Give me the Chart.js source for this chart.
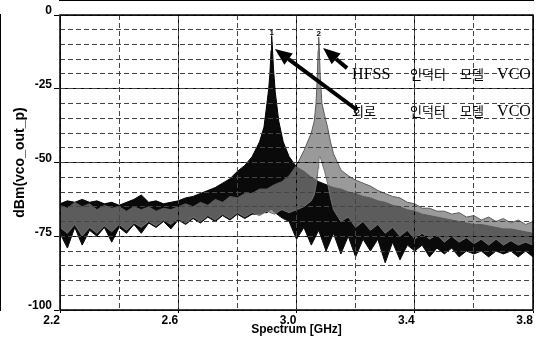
<!DOCTYPE html>
<html lang="ko">
<head>
  <meta charset="UTF-8" />
  <title>VCO Spectrum</title>
  <script src="https://cdn.jsdelivr.net/npm/chart.js"></script>
  <style>
    body { margin: 0; background: #fff; }
    #wrap { width: 540px; height: 340px; }
  </style>
</head>
<body>
  <div id="wrap"><canvas id="spec" width="540" height="340"></canvas></div>

  <script>
    // 회로 인덕터 모델 VCO (black trace), GHz / dBm
    const freqCircuit = [
      2.200, 2.225, 2.250, 2.275, 2.300, 2.325, 2.350, 2.375, 2.400, 2.425,
      2.450, 2.475, 2.500, 2.525, 2.550, 2.575, 2.600, 2.625, 2.650, 2.675,
      2.700, 2.725, 2.750, 2.775, 2.800, 2.825, 2.850,
      2.875, 2.890, 2.900, 2.906, 2.910, 2.914, 2.916, 2.918, 2.922, 2.928, 2.940, 2.955, 2.975,
      3.000, 3.025, 3.050, 3.075, 3.100, 3.125, 3.150, 3.175, 3.200, 3.225,
      3.250, 3.275, 3.300, 3.325, 3.350, 3.375, 3.400, 3.425, 3.450, 3.475,
      3.500, 3.525, 3.550, 3.575, 3.600, 3.625, 3.650, 3.675, 3.700, 3.725,
      3.750, 3.775, 3.800
    ];
    const topCircuit = [
      -64, -63, -63.5, -62.5, -63.5, -63, -64, -63.5, -64.5, -63.5,
      -62.5, -61, -63.5, -63, -64, -63.5, -63, -62, -61.5, -60.5,
      -59.5, -58.5, -57, -55.5, -53, -51, -48,
      -43, -38, -30, -25, -20, -12, -7, -10, -18, -26, -36, -43, -48,
      -51.5, -53, -55, -56.5, -57.5, -58.5, -59, -60, -60.5, -61.5,
      -62, -63, -63.5, -64.5, -65, -66, -66.5, -67.5, -68, -68.5,
      -69, -69.5, -70, -70.5, -71, -71, -71.5, -72, -72.5, -72.5,
      -73, -73.5, -74
    ];
    const botCircuit = [
      -74, -79, -72, -78, -73, -75, -72, -77, -72, -74,
      -71, -74, -70.5, -72, -70, -72.5, -69.5, -71, -69, -70.5,
      -68.5, -70, -68, -69.5, -67.5, -69, -67.5,
      -67.5, -67, -67, -66.5, -66, -66, -66, -66, -66.5, -67, -68, -69, -70,
      -76, -72, -78, -73, -80, -74, -81, -75, -82, -76,
      -80, -76, -84, -77, -83, -78, -80, -78, -82, -79,
      -81, -79, -82, -80, -81, -80, -82, -80, -81, -80,
      -82, -80, -82
    ];

    // HFSS 인덕터 모델 VCO (gray trace)
    const freqHfss = [
      2.200, 2.225, 2.250, 2.275, 2.300, 2.325, 2.350, 2.375, 2.400, 2.425,
      2.450, 2.475, 2.500, 2.525, 2.550, 2.575, 2.600, 2.625, 2.650, 2.675,
      2.700, 2.725, 2.750, 2.775, 2.800, 2.825, 2.850, 2.875, 2.900, 2.925,
      2.950, 2.975, 3.000, 3.025,
      3.050, 3.060, 3.066, 3.070, 3.073, 3.075, 3.077, 3.080, 3.086, 3.095, 3.105, 3.115, 3.125,
      3.150, 3.175, 3.200, 3.225, 3.250, 3.275, 3.300, 3.325, 3.350, 3.375,
      3.400, 3.425, 3.450, 3.475, 3.500, 3.525, 3.550, 3.575, 3.600, 3.625,
      3.650, 3.675, 3.700, 3.725, 3.750, 3.775, 3.800
    ];
    const topHfss = [
      -64.5, -65.5, -63.5, -65, -64, -66, -64.5, -65.5, -65, -66.5,
      -65, -66, -65, -66.5, -65.5, -66, -65, -64, -65, -63.5,
      -64.5, -62.5, -63.5, -61.5, -62, -60.5, -60.5, -59, -59, -57.5,
      -56.5, -54.5, -51, -46,
      -40, -36, -30, -22, -12, -7.5, -11, -20, -30, -34, -38, -43, -47,
      -52.5, -54.5, -56, -57, -58, -59.5, -60.5, -61.5, -62, -63.5,
      -64, -65.5, -65.5, -66.5, -66.5, -67.5, -67, -68.5, -68, -69.5,
      -68.5, -70, -69, -70.5, -69.5, -71, -70
    ];
    const botHfss = [
      -72, -74, -71, -75, -72, -74, -71.5, -73.5, -71, -73,
      -70.5, -72, -70, -71.5, -69.5, -71, -69, -70.5, -68.5, -70,
      -68, -69.5, -67.5, -69, -67, -68.5, -67, -68, -66.5, -67.5,
      -66, -67, -66, -65,
      -63, -61, -58, -55, -52, -50, -48, -48, -50, -53, -57, -62, -66,
      -70, -68.5, -72, -70, -73, -71, -74, -72, -75, -73,
      -76, -74, -76, -74.5, -77, -75, -77, -75.5, -77.5, -76,
      -78, -76, -78, -76.5, -78, -77, -78
    ];

    // marker labels at the two peaks
    const peakFreqs = [2.916, 3.075];
    const peakLevels = [-7, -7.5];
    const peakMarks = ['1', '2'];

    // axis ticks
    const xMajor = [2.2, 2.6, 3.0, 3.4, 3.8];
    const xMinor = [2.2, 2.4, 2.6, 2.8, 3.0, 3.2, 3.4, 3.6, 3.8];
    const yMajor = [0, -25, -50, -75, -100];
    const yMinor = [0, -5, -10, -15, -20, -25, -30, -35, -40, -45, -50,
                    -55, -60, -65, -70, -75, -80, -85, -90, -95, -100];

    const toPts = (fs, vs) => fs.map((f, i) => ({ x: f, y: vs[i] }));
    const tickFont = { family: '"Liberation Sans", Arial, sans-serif', size: 12, weight: 'bold' };

    function drawArrow(ctx, x0, y0, x1, y1) {
      const a = Math.atan2(y1 - y0, x1 - x0);
      const head = 17, half = 7;
      const bx = x1 - head * Math.cos(a), by = y1 - head * Math.sin(a);
      ctx.lineWidth = 4;
      ctx.beginPath();
      ctx.moveTo(x0, y0);
      ctx.lineTo(bx, by);
      ctx.stroke();
      ctx.beginPath();
      ctx.moveTo(x1, y1);
      ctx.lineTo(bx + half * Math.sin(a), by - half * Math.cos(a));
      ctx.lineTo(bx - half * Math.sin(a), by + half * Math.cos(a));
      ctx.closePath();
      ctx.fill();
    }

    // frame, peak markers, arrows and the two captions
    const notes = {
      id: 'notes',
      afterDraw(chart) {
        const { ctx, chartArea: a } = chart;
        const x = chart.scales.x, y = chart.scales.y;
        ctx.save();
        ctx.strokeStyle = '#000';
        ctx.fillStyle = '#000';
        ctx.lineWidth = 1.5;
        ctx.strokeRect(a.left, a.top, a.right - a.left, a.bottom - a.top);

        ctx.font = 'bold 8px "Liberation Sans"';
        ctx.textAlign = 'center';
        ctx.textBaseline = 'bottom';
        peakFreqs.forEach((f, i) => {
          ctx.fillText(peakMarks[i], x.getPixelForValue(f), y.getPixelForValue(peakLevels[i]) + 1);
        });

        drawArrow(ctx, x.getPixelForValue(3.171), y.getPixelForValue(-18),
                       x.getPixelForValue(3.090), y.getPixelForValue(-11.2));
        drawArrow(ctx, x.getPixelForValue(3.205), y.getPixelForValue(-32.2),
                       x.getPixelForValue(2.927), y.getPixelForValue(-11.5));

        const captions = [
          { f: 3.188, db: -20, words: [['HFSS', 0], ['인덕터', 58], ['모델', 108], ['VCO', 145]] },
          { f: 3.188, db: -32.5, words: [['회로', 0], ['인덕터', 58], ['모델', 108], ['VCO', 145]] }
        ];
        ctx.textAlign = 'left';
        ctx.textBaseline = 'middle';
        captions.forEach(c => {
          const px = x.getPixelForValue(c.f), py = y.getPixelForValue(c.db);
          c.words.forEach(([w, dx]) => {
            const latin = /^[A-Z]+$/.test(w);
            ctx.font = latin ? '16px "Liberation Serif", serif' : '13px "Noto Sans CJK KR", sans-serif';
            ctx.fillText(w, px + dx, py + (latin ? 1 : 0));
          });
        });
        ctx.restore();
      }
    };

    new Chart(document.getElementById('spec'), {
      type: 'line',
      data: {
        datasets: [
          {
            label: 'HFSS 인덕터 모델 VCO',
            data: toPts(freqHfss, topHfss),
            borderColor: '#5a5a5a',
            borderWidth: 1,
            backgroundColor: 'rgba(120,120,120,0.75)',
            fill: '+1',
            pointRadius: 0,
            tension: 0
          },
          {
            label: 'HFSS bottom',
            data: toPts(freqHfss, botHfss),
            borderColor: '#6a6a6a',
            borderWidth: 1,
            fill: false,
            pointRadius: 0,
            tension: 0
          },
          {
            label: '회로 인덕터 모델 VCO',
            data: toPts(freqCircuit, topCircuit),
            borderColor: '#000',
            borderWidth: 1,
            backgroundColor: '#0a0a0a',
            fill: '+1',
            pointRadius: 0,
            tension: 0
          },
          {
            label: 'circuit bottom',
            data: toPts(freqCircuit, botCircuit),
            borderColor: '#000',
            borderWidth: 1,
            fill: false,
            pointRadius: 0,
            tension: 0
          }
        ]
      },
      options: {
        responsive: false,
        animation: false,
        events: [],
        layout: { padding: { top: 15, right: 7, left: 0, bottom: 0 } },
        plugins: {
          legend: { display: false },
          tooltip: { enabled: false }
        },
        scales: {
          x: {
            type: 'linear',
            min: 2.2,
            max: 3.8,
            afterBuildTicks: s => { s.ticks = xMajor.map(v => ({ value: v })); },
            afterFit: s => { s.height = 30; },
            ticks: {
              callback: v => v.toFixed(1),
              align: 'end',
              padding: 0,
              color: '#000',
              font: tickFont,
              maxRotation: 0,
              autoSkip: false
            },
            grid: { color: '#000', lineWidth: 1, tickLength: 3, z: 1 },
            border: { color: '#000', width: 2 },
            title: {
              display: true,
              text: 'Spectrum [GHz]',
              color: '#000',
              font: tickFont,
              padding: { top: 0, bottom: 3 }
            }
          },
          x2: {
            type: 'linear',
            position: 'bottom',
            min: 2.2,
            max: 3.8,
            afterBuildTicks: s => { s.ticks = xMinor.map(v => ({ value: v })); },
            afterFit: s => { s.height = 0; },
            ticks: { display: false },
            grid: { color: '#444', lineWidth: 1, drawTicks: false, z: 1 },
            border: { display: false, dash: [5, 3] }
          },
          y: {
            type: 'linear',
            min: -100,
            max: 0,
            afterBuildTicks: s => { s.ticks = yMajor.map(v => ({ value: v })); },
            afterFit: s => { s.width = 60; },
            ticks: {
              callback: v => String(v),
              padding: 2,
              labelOffset: -4,
              color: '#000',
              font: tickFont
            },
            grid: { color: '#000', lineWidth: 1, tickLength: 6, z: 1 },
            border: { color: '#000', width: 2 },
            title: {
              display: true,
              text: 'dBm(vco_out_p)',
              color: '#000',
              font: { family: '"Liberation Sans", Arial, sans-serif', size: 14, weight: 'bold' },
              padding: { top: 12, bottom: 0 }
            }
          },
          y2: {
            type: 'linear',
            position: 'left',
            min: -100,
            max: 0,
            afterBuildTicks: s => { s.ticks = yMinor.map(v => ({ value: v })); },
            afterFit: s => { s.width = 0; },
            ticks: { display: false },
            grid: { color: '#444', lineWidth: 1, drawTicks: false, z: 1 },
            border: { display: false, dash: [5, 3] }
          }
        }
      },
      plugins: [notes]
    });
  </script>
</body>
</html>
